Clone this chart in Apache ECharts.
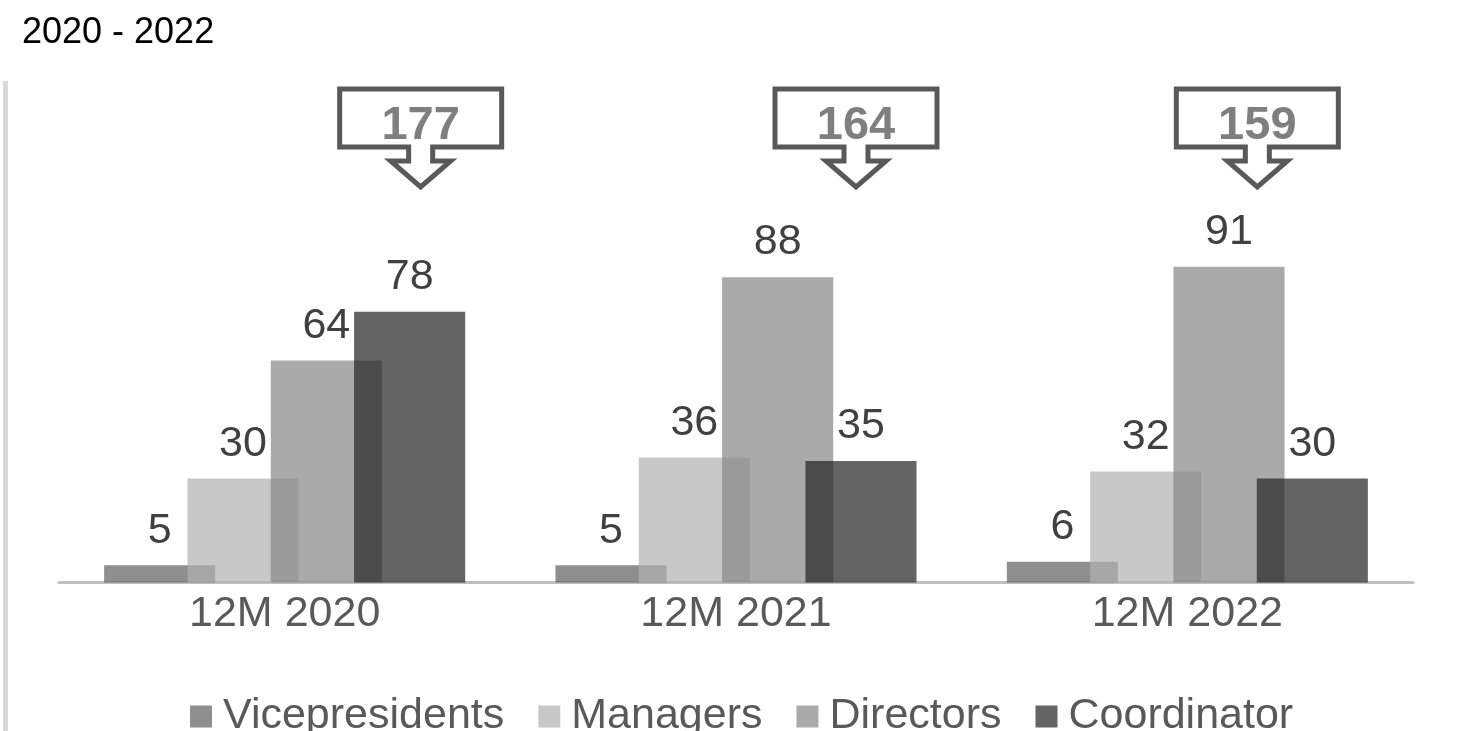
<!DOCTYPE html>
<html>
<head>
<meta charset="utf-8">
<script src="https://cdn.jsdelivr.net/npm/echarts@6/dist/echarts.min.js"></script>
<style>
html,body{margin:0;padding:0;background:#fff;}
#chart{width:1459px;height:731px;}
</style>
</head>
<body>
<div id="chart"></div>
<script>
const categories = ['12M 2020', '12M 2021', '12M 2022'];
const seriesNames = ['Vicepresidents', 'Managers', 'Directors', 'Coordinator'];
const vicepresidents = [5, 5, 6];
const managers = [30, 36, 32];
const directors = [64, 88, 91];
const coordinator = [78, 35, 30];
const subtitle = '2020 - 2022';

const seriesValues = [vicepresidents, managers, directors, coordinator];
const totals = categories.map((c, i) => seriesValues.reduce((s, arr) => s + arr[i], 0));

// layout / style constants
const FONT = '"Liberation Sans", Arial, sans-serif';
const colors = ['rgba(95,95,95,0.7)', 'rgba(176,176,176,0.7)', 'rgba(134,134,134,0.7)', 'rgba(34,34,34,0.7)'];
const calloutOffsets = [136, 120, 70];

const chart = echarts.init(document.getElementById('chart'), null, {renderer: 'canvas'});

const barSeries = seriesNames.map((name, k) => ({
  name: name,
  type: 'bar',
  data: seriesValues[k],
  barGap: '-25%',
  barCategoryGap: '20%',
  itemStyle: {color: colors[k]},
  label: {
    show: true,
    position: 'top',
    distance: 13,
    fontSize: 43,
    fontFamily: FONT,
    color: '#404040'
  },
  emphasis: {disabled: true},
  z: 2
}));

const calloutSeries = {
  type: 'custom',
  name: 'totals',
  data: totals.map((t, i) => [i, t]),
  clip: false,
  silent: true,
  z: 5,
  renderItem: function (params, api) {
    const idx = api.value(0);
    const cx = api.coord([idx, 0])[0] + calloutOffsets[idx];
    const top = 89, bh = 58, hw = 81, sw = 12, aw = 30, stemEnd = 161, tip = 187;
    const pts = [
      [cx - hw, top], [cx + hw, top], [cx + hw, top + bh], [cx + sw, top + bh],
      [cx + sw, stemEnd], [cx + aw, stemEnd], [cx, tip], [cx - aw, stemEnd],
      [cx - sw, stemEnd], [cx - sw, top + bh], [cx - hw, top + bh]
    ];
    return {
      type: 'group',
      children: [
        {type: 'polygon', shape: {points: pts},
         style: {fill: '#ffffff', stroke: '#595959', lineWidth: 5, lineJoin: 'miter'}},
        {type: 'text',
         style: {text: String(api.value(1)), x: cx, y: 126, align: 'center', verticalAlign: 'middle',
                 font: 'bold 47px ' + FONT, fill: '#7f7f7f'}}
      ]
    };
  }
};

const option = {
  backgroundColor: '#ffffff',
  animation: false,
  title: {
    text: subtitle,
    left: 22,
    top: 15,
    padding: 0,
    textStyle: {fontSize: 36, fontWeight: 'normal', color: '#000000', fontFamily: FONT}
  },
  graphic: [
    {type: 'rect', left: 3, top: 81, shape: {width: 5, height: 660}, style: {fill: '#d9d9d9'}, silent: true}
  ],
  legend: {
    data: seriesNames,
    left: 190,
    top: 695,
    icon: 'rect',
    itemWidth: 22,
    itemHeight: 22,
    itemGap: 34,
    padding: 0,
    textStyle: {fontSize: 43, color: '#595959', fontFamily: FONT, padding: [0, 0, 0, 6]}
  },
  grid: {left: 59, right: 46, top: 235.5, bottom: 148.5, containLabel: false},
  xAxis: {
    type: 'category',
    data: categories,
    axisTick: {show: false},
    axisLine: {show: true, lineStyle: {color: '#bfbfbf', width: 3}},
    axisLabel: {fontSize: 43, color: '#595959', fontFamily: FONT, margin: 10},
    splitLine: {show: false}
  },
  yAxis: {
    type: 'value',
    min: 0,
    max: 100,
    show: false,
    splitLine: {show: false}
  },
  series: barSeries.concat([calloutSeries])
};

chart.setOption(option);
</script>
</body>
</html>
